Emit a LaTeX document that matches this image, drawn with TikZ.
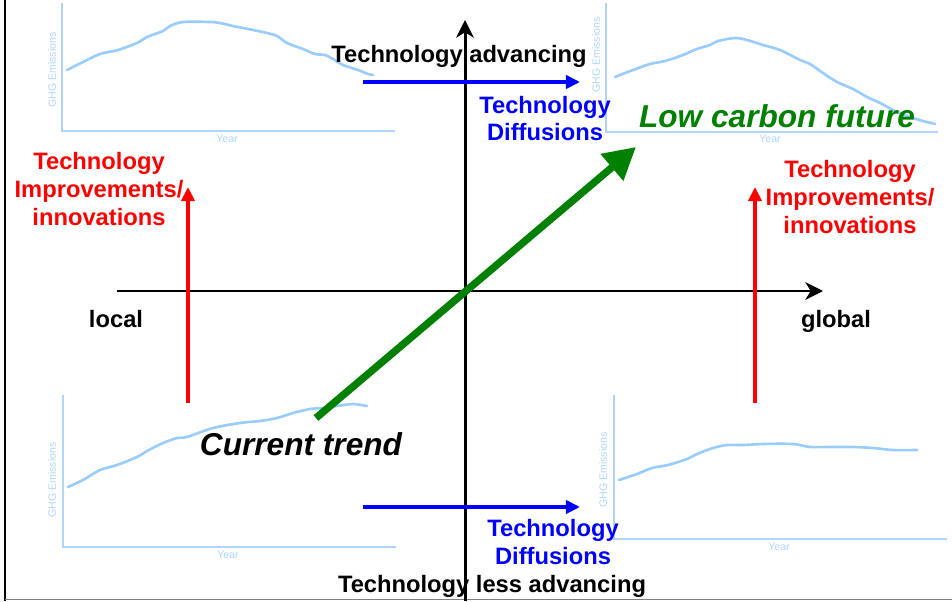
\documentclass[tikz,border=0pt]{standalone}
\usepackage{fontspec}
\setmainfont{Liberation Sans}
\usetikzlibrary{arrows.meta}

\definecolor{techred}{RGB}{255,0,0}
\definecolor{techblue}{RGB}{0,0,255}
\definecolor{futuregreen}{RGB}{0,128,0}
\definecolor{chartline}{RGB}{153,204,255}
\definecolor{chartaxis}{RGB}{175,212,255}

\begin{document}
\begin{tikzpicture}[x=0.02cm,y=-0.02cm,
  lbl/.style={font=\fontsize{13.5}{15.9}\selectfont\bfseries, inner sep=0pt, align=center, anchor=base},
  big/.style={font=\fontsize{18}{21}\selectfont\bfseries\itshape, inner sep=0pt, anchor=base},
  axis/.style={line width=1.7pt, -{Stealth[length=10pt,width=10pt,inset=3pt]}},
  push/.style={line width=2.4pt, -{Triangle[length=8pt,width=7.5pt]}},
  small/.style={font=\fontsize{6}{7}\selectfont, text=chartaxis, inner sep=0pt},
  frame/.style={chartaxis, line width=0.6pt},
  curve/.style={chartline, line width=1.5pt, line join=round, line cap=round}]
\useasboundingbox (0,0) rectangle (952,601);

% page edges
\draw[line width=1.2pt] (5,0) -- (5,601);
\draw[gray, line width=0.6pt] (5,599.5) -- (952,599.5);

% emission charts
\draw[frame] (62,3) -- (62,131) -- (395,131);
\node[small, rotate=90] (g1) at (52,70) {GHG Emissions};
\node[small] (y1) at (227,139) {Year};
\draw[curve] plot[smooth] coordinates {(67,70) (83,62) (100,54) (118,50) (137,43) (147,37)
  (163,31) (170,26) (183,22) (210,22) (220,23) (233,26) (253,30) (267,33) (277,36)
  (287,43) (303,49) (315,54) (325,55) (333,59) (343,65) (358,70) (368,74) (373,75)};

\draw[frame] (606,3) -- (606,132) -- (938,132);
\node[small, rotate=90] (g2) at (596,55) {GHG Emissions};
\node[small] (y2) at (770,139) {Year};
\draw[curve] plot[smooth] coordinates {(615,77) (633,70) (650,64) (665,61) (683,55) (697,49)
  (710,45) (718,41) (735,38) (747,40) (763,45) (780,50) (800,60) (810,64) (823,73)
  (837,82) (853,89) (867,97) (880,103) (893,110) (910,117) (923,121) (935,124)};

\draw[frame] (63,395) -- (63,547) -- (396,547);
\node[small, rotate=90] (g3) at (52,480) {GHG Emissions};
\node[small] (y3) at (228,555) {Year};
\draw[curve] plot[smooth] coordinates {(68,487) (83,480) (100,470) (117,465) (137,457)
  (147,451) (163,443) (177,438) (187,437) (213,428) (240,423) (260,421) (277,418)
  (293,413) (310,409) (323,408) (337,406) (353,404) (367,406)};

\draw[frame] (614,395) -- (614,539) -- (947,539);
\node[small, rotate=90] (g4) at (603,470) {GHG Emissions};
\node[small] (y4) at (779,547) {Year};
\draw[curve] plot[smooth] coordinates {(619,480) (637,474) (652,468) (668,465) (687,459)
  (697,454) (713,448) (727,445) (743,445) (763,444) (793,444) (810,447) (830,447)
  (853,447) (873,448) (893,450) (917,450)};

% axes
\coordinate (west) at (117,291);
\coordinate (east) at (823,291);
\coordinate (south) at (465,601);
\coordinate (north) at (465,20);
\draw[axis] (west) -- (east);
\draw[axis] (south) -- (north);

% pushes along the axes
\coordinate (lfoot) at (188,403);
\coordinate (lhead) at (188,187);
\coordinate (rfoot) at (755,403);
\coordinate (rhead) at (755,187);
\draw[push, techred] (lfoot) -- (lhead);
\draw[push, techred] (rfoot) -- (rhead);
\coordinate (tstart) at (363,82);
\coordinate (tend) at (580,82);
\coordinate (bstart) at (363,507);
\coordinate (bend) at (580,507);
\draw[push, techblue] (tstart) -- (tend);
\draw[push, techblue] (bstart) -- (bend);

% trend towards the future
\coordinate (now) at (316,418);
\coordinate (future) at (636,147);
\draw[futuregreen, line width=4.2pt, -{Triangle[length=18pt,width=19pt]}] (now) -- (future);

% labels (multi-line ones sit on their last line)
\node[lbl] (adv) at (459,63) {Technology advancing};
\node[lbl] (less) at (492,592) {Technology less advancing};
\node[lbl] (loc) at (116,327) {local};
\node[lbl] (glob) at (836,327) {global};
\node[lbl, techblue] (diff1) at (545,141) {Technology\\Diffusions};
\node[lbl, techblue] (diff2) at (553,564) {Technology\\Diffusions};
\node[lbl, techred] (impl) at (99,225) {Technology\\Improvements/\\innovations};
\node[lbl, techred] (impr) at (850,233) {Technology\\Improvements/\\innovations};
\node[big, futuregreen] (low) at (777,128) {Low carbon future};
\node[big] (cur) at (301,455) {Current trend};
\end{tikzpicture}
\end{document}
